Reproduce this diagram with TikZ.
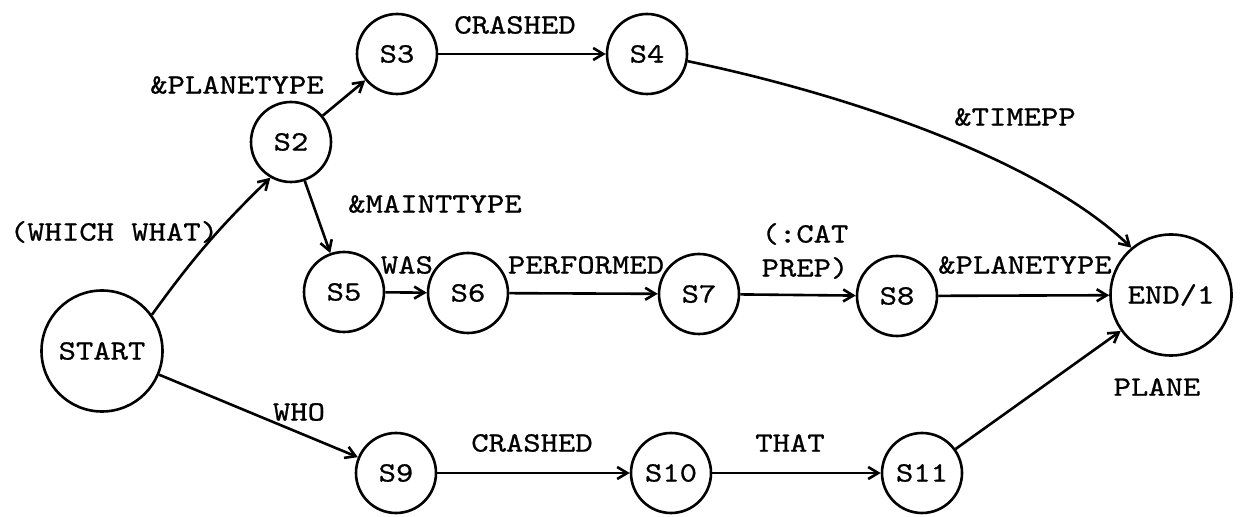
\documentclass[tikz,border=0pt]{standalone}
\usepackage{fontspec}
\setmonofont[Extension=.otf,FakeStretch=1.18,FakeBold=0.8]{lmmono10-regular}
\usetikzlibrary{arrows.meta}
\newcommand\lblfont{\ttfamily\fontsize{14}{17}\selectfont}
\begin{document}
\begin{tikzpicture}[x=0.5pt,y=-0.5pt,
  st/.style={circle,draw,line width=1.3pt,minimum size=40pt,inner sep=0pt,font=\lblfont},
  big/.style={st,minimum size=60.5pt},
  lbl/.style={font=\lblfont,inner sep=0pt,align=center},
  arr/.style={line width=1.3pt,-{Straight Barb[length=5pt,width=6pt,line width=1.3pt]}}]
\useasboundingbox (0,0) rectangle (1241,517);
\node[big] (start) at (102,351) {START};
\node[st] (s2) at (291,142) {S2};
\node[st] (s3) at (397,54) {S3};
\node[st] (s4) at (647,54) {S4};
\node[st] (s5) at (344,292) {S5};
\node[st] (s6) at (468,293) {S6};
\node[st] (s7) at (699,294) {S7};
\node[st] (s8) at (897,296) {S8};
\node[big] (end) at (1171,295) {END/1};
\node[st] (s9) at (396,473) {S9};
\node[st] (s10) at (671,473) {S10};
\node[st] (s11) at (922,473) {S11};

\draw[arr] (start.36) to[bend left=5] (s2.240);
\draw[arr] (s2) -- (s3);
\draw[arr] (s2) -- (s5);
\draw[arr] (s3) -- (s4);
\draw[arr] (s4.-10) .. controls (850,95) and (1040,160) .. (end.130);
\draw[arr] (s5) -- (s6);
\draw[arr] (s6) -- (s7);
\draw[arr] (s7) -- (s8);
\draw[arr] (s8) -- (end);
\draw[arr] (start) -- (s9);
\draw[arr] (s9) -- (s10);
\draw[arr] (s10) -- (s11);
\draw[arr] (s11) -- (end);

\node[lbl] (l1) at (237,85) {\&PLANETYPE};
\node[lbl] (l2) at (114,232) {(WHICH WHAT)};
\node[lbl] (l3) at (435,204) {\&MAINTTYPE};
\node[lbl] (l4) at (515,25) {CRASHED};
\node[lbl] (l5) at (1015,117) {\&TIMEPP};
\node[lbl] (l6) at (407,265) {WAS};
\node[lbl] (l7) at (586,265) {PERFORMED};
\node[lbl] (l8) at (805,251) {(:CAT\\PREP)};
\node[lbl] (l9) at (1025,265) {\&PLANETYPE};
\node[lbl] (l10) at (1157,387) {PLANE};
\node[lbl] (l11) at (299,412) {WHO};
\node[lbl] (l12) at (532,443) {CRASHED};
\node[lbl] (l13) at (790,443) {THAT};
\end{tikzpicture}
\end{document}
